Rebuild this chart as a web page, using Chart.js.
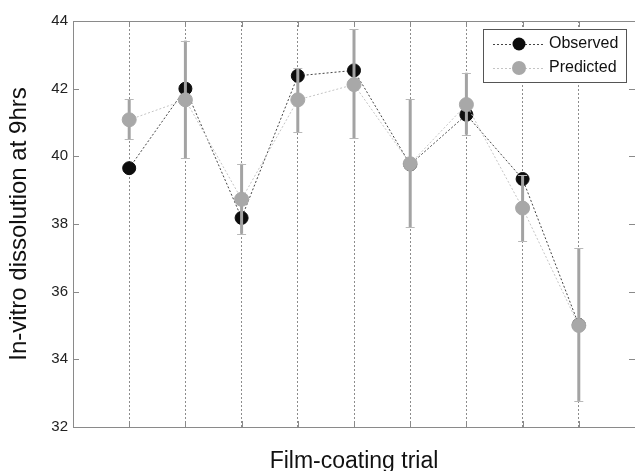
<!DOCTYPE html>
<html>
<head>
<meta charset="utf-8">
<script src="https://cdn.jsdelivr.net/npm/chart.js@4.4.0/dist/chart.umd.min.js"></script>
<style>
  html, body { margin: 0; padding: 0; background: #fff; }
  #wrap { width: 635px; height: 471px; }
</style>
</head>
<body>
<div id="wrap"><canvas id="chart" width="635" height="471"></canvas></div>
<script>
// values
var trials = [1, 2, 3, 4, 5, 6, 7, 8, 9];
var observed = [39.65, 42.0, 38.18, 42.38, 42.54, 39.76, 41.23, 39.33, 35.02];
var predicted = [41.08, 41.67, 38.73, 41.67, 42.12, 39.78, 41.53, 38.47, 35.0];
var predLow = [40.51, 39.95, 37.71, 40.72, 40.54, 37.91, 40.64, 37.49, 32.77];
var predHigh = [41.69, 43.42, 39.78, 42.61, 43.75, 41.69, 42.47, 39.45, 37.29];
var yTicks = [32, 34, 36, 38, 40, 42, 44];

Chart.defaults.font.family = '"Liberation Sans", Arial, sans-serif';

// gray error bars on the predicted series, drawn between the two series
var errorBars = {
  id: 'errorBars',
  beforeDatasetDraw: function (chart, args) {
    if (args.index !== 1) return;
    var ctx = chart.ctx, x = chart.scales.x, y = chart.scales.y;
    ctx.save();
    trials.forEach(function (t, i) {
      var px = x.getPixelForValue(t);
      var top = y.getPixelForValue(predHigh[i]);
      var bot = y.getPixelForValue(predLow[i]);
      ctx.strokeStyle = '#a3a3a3';
      ctx.lineWidth = 3;
      ctx.beginPath();
      ctx.moveTo(px, top);
      ctx.lineTo(px, bot);
      ctx.stroke();
      ctx.strokeStyle = '#b8b8b8';
      ctx.lineWidth = 1;
      ctx.beginPath();
      ctx.moveTo(px - 4.5, Math.round(top) + 0.5);
      ctx.lineTo(px + 4.5, Math.round(top) + 0.5);
      ctx.moveTo(px - 4.5, Math.round(bot) + 0.5);
      ctx.lineTo(px + 4.5, Math.round(bot) + 0.5);
      ctx.stroke();
    });
    ctx.restore();
  }
};

// box round the axes and inward tick marks
var frame = {
  id: 'frame',
  beforeDatasetsDraw: function (chart) {
    var ctx = chart.ctx, a = chart.chartArea, x = chart.scales.x, y = chart.scales.y;
    ctx.save();
    ctx.strokeStyle = '#8a8a8a';
    ctx.lineWidth = 1;
    ctx.strokeRect(a.left + 0.5, a.top + 0.5, a.right - a.left, a.bottom - a.top);
    ctx.beginPath();
    yTicks.forEach(function (v) {
      var py = Math.round(y.getPixelForValue(v)) + 0.5;
      ctx.moveTo(a.left, py); ctx.lineTo(a.left + 6, py);
      ctx.moveTo(a.right, py); ctx.lineTo(a.right - 6, py);
    });
    trials.forEach(function (t) {
      var px = Math.round(x.getPixelForValue(t)) + 0.5;
      ctx.moveTo(px, a.bottom); ctx.lineTo(px, a.bottom - 6);
      ctx.moveTo(px, a.top); ctx.lineTo(px, a.top + 6);
    });
    ctx.stroke();
    ctx.restore();
  }
};

// legend box in the top right corner
var legendBox = {
  id: 'legendBox',
  afterDraw: function (chart) {
    var ctx = chart.ctx, a = chart.chartArea;
    var bx = a.right - 152, by = a.top + 8, bw = 143, bh = 53;
    ctx.save();
    ctx.fillStyle = '#fff';
    ctx.fillRect(bx, by, bw, bh);
    ctx.strokeStyle = '#555';
    ctx.lineWidth = 1;
    ctx.strokeRect(bx + 0.5, by + 0.5, bw, bh);
    chart.data.datasets.forEach(function (ds, i) {
      var ry = by + 15 + i * 24;
      ctx.strokeStyle = ds.borderColor;
      ctx.setLineDash([2, 2]);
      ctx.beginPath();
      ctx.moveTo(bx + 10, ry + 0.5);
      ctx.lineTo(bx + 62, ry + 0.5);
      ctx.stroke();
      ctx.setLineDash([]);
      ctx.fillStyle = ds.pointBackgroundColor;
      ctx.beginPath();
      ctx.arc(bx + 36, ry, ds.pointRadius, 0, Math.PI * 2);
      ctx.fill();
      ctx.fillStyle = '#111';
      ctx.font = '16px "Liberation Sans", Arial, sans-serif';
      ctx.textBaseline = 'middle';
      ctx.fillText(ds.label, bx + 66, ry);
    });
    ctx.restore();
  }
};

new Chart(document.getElementById('chart'), {
  type: 'line',
  data: {
    datasets: [{
      label: 'Observed',
      data: trials.map(function (t, i) { return { x: t, y: observed[i] }; }),
      borderColor: '#444',
      borderWidth: 1,
      borderDash: [2, 2],
      pointRadius: 6.5,
      pointBackgroundColor: '#0d0d0d',
      pointBorderColor: '#0d0d0d',
      pointBorderWidth: 1,
      order: 1
    }, {
      label: 'Predicted',
      data: trials.map(function (t, i) { return { x: t, y: predicted[i] }; }),
      borderColor: '#c4c4c4',
      borderWidth: 1,
      borderDash: [2, 2],
      pointRadius: 7,
      pointBackgroundColor: '#a8a8a8',
      pointBorderColor: '#a8a8a8',
      pointBorderWidth: 1,
      order: 0
    }]
  },
  options: {
    responsive: false,
    animation: false,
    layout: { autoPadding: false, padding: { top: 21, right: 0, bottom: 0, left: 0 } },
    plugins: {
      legend: { display: false },
      tooltip: { enabled: false }
    },
    scales: {
      x: {
        type: 'linear',
        min: 0,
        max: 10,
        afterBuildTicks: function (s) {
          s.ticks = [0].concat(trials, [10]).map(function (v) { return { value: v }; });
        },
        afterFit: function (s) { s.height = 44; },
        grid: {
          drawTicks: false,
          color: function (c) {
            return c.tick && trials.indexOf(c.tick.value) >= 0 ? '#8c8c8c' : 'rgba(0,0,0,0)';
          }
        },
        border: { display: false, dash: [2, 2] },
        ticks: { display: false },
        title: {
          display: true,
          text: 'Film-coating trial',
          color: '#111',
          font: { size: 23 },
          padding: { top: 0, bottom: -4 }
        }
      },
      y: {
        min: 32,
        max: 44,
        afterBuildTicks: function (s) {
          s.ticks = yTicks.map(function (v) { return { value: v }; });
        },
        afterFit: function (s) { s.width = 73; },
        grid: { display: false, drawTicks: false },
        border: { display: false },
        ticks: { padding: 5, color: '#222', font: { size: 15 } },
        title: {
          display: true,
          text: 'In-vitro dissolution at 9hrs',
          color: '#111',
          font: { size: 24 },
          padding: { top: 5, bottom: 0 }
        }
      }
    }
  },
  plugins: [frame, errorBars, legendBox]
});
</script>
</body>
</html>
